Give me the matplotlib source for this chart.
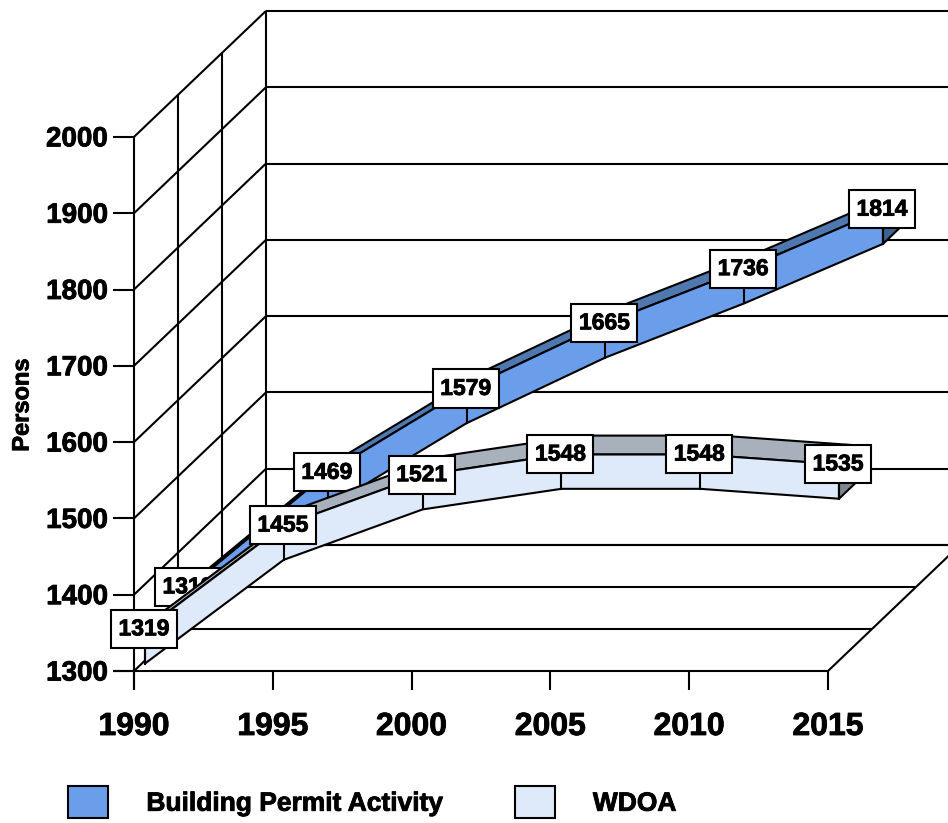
from matplotlib import pyplot as plt
from matplotlib.patches import Patch
from matplotlib.text import Text
from matplotlib import patheffects
import numpy as np

years = np.array([1990, 1995, 2000, 2005, 2010, 2015])
permits = np.array([1319, 1469, 1579, 1665, 1736, 1814])
wdoa = np.array([1319, 1455, 1521, 1548, 1548, 1535])
value_ticks = [1300, 1400, 1500, 1600, 1700, 1800, 1900, 2000]
ylabel = 'Persons'
name_permits = 'Building Permit Activity'
name_wdoa = 'WDOA'

plt.rcParams['font.family'] = ['Liberation Sans', 'DejaVu Sans']
plt.rcParams['font.weight'] = 'bold'

W, H = 948, 823
fig = plt.figure(figsize=(W/100, H/100), dpi=100)
ax = fig.add_axes([0, 0, 1, 1])
ax.axis('off')

# pixels per unit of the front plane
px_year = 138.8/5
px_val = 0.763
x0, y0 = 134, 671
ax.set_xlim(1990 - x0/px_year, 1990 + (W - x0)/px_year)
ax.set_ylim(1300 - (H - y0)/px_val, 1300 + y0/px_val)

# full depth of the box, in data units
DX = 132/px_year
DY = 126/px_val
LW = 1.5

def proj(x, y, d):
    return x + d*DX, y + d*DY

def seg(x1, y1, x2, y2, z=1):
    ax.plot([x1, x2], [y1, y2], color='k', lw=LW, zorder=z, solid_capstyle='butt')

# front axes and ticks
x_l, x_r = years[0], years[-1]
tick_x = 21/px_year
tick_y = 19/px_val
seg(x_l, value_ticks[0] - tick_y, x_l, value_ticks[-1])
seg(x_l - tick_x, value_ticks[0], x_r, value_ticks[0])
for v in value_ticks:
    seg(x_l - tick_x, v, x_l, v)
    ax.text(x_l - 26/px_year, v - 2.5/px_val, str(v), ha='right', va='center', fontsize=20)
    # side wall and back wall
    xb, yb = proj(x_l, v, 1)
    seg(x_l, v, xb, yb)
    seg(xb, yb, xb + 30, yb)
for y in years:
    seg(y, value_ticks[0] - tick_y, y, value_ticks[0])
    ax.text(y, value_ticks[0] - 56/px_val, str(y), ha='center', va='center', fontsize=23)

# floor and side wall divisions
for d in [1/3, 2/3, 1]:
    xa, ya = proj(x_l, value_ticks[0], d)
    xb, yb = proj(x_r, value_ticks[0], d)
    seg(xa, ya, xb, yb)
    xt, yt = proj(x_l, value_ticks[-1], d)
    seg(xa, ya, xt, yt)
xb, yb = proj(x_r, value_ticks[0], 1)
seg(x_r, value_ticks[0], xb, yb)

ax.text(22/px_year + ax.get_xlim()[0], 1300 + (671 - 405)/px_val, ylabel, rotation=90,
        ha='center', va='center', fontsize=17)

def ribbon(vals, d0, face, top, side, z):
    low, high = 23, 22
    d1 = d0 + 0.15
    xf, yf = proj(years, vals, d0)
    xk, yk = proj(years, vals, d1)
    up = np.concatenate([xf, xk[::-1]]), np.concatenate([yf + high, (yk + high)[::-1]])
    ax.fill(up[0], up[1], facecolor=top, edgecolor='k', lw=LW, zorder=z)
    front = np.concatenate([xf, xf[::-1]]), np.concatenate([yf - low, (yf + high)[::-1]])
    ax.fill(front[0], front[1], facecolor=face, edgecolor='k', lw=LW, zorder=z)
    end_x = [xf[-1], xk[-1], xk[-1], xf[-1]]
    end_y = [yf[-1] - low, yk[-1] - low, yk[-1] + high, yf[-1] + high]
    ax.fill(end_x, end_y, facecolor=side, edgecolor='k', lw=LW, zorder=z)
    for x, y, v in zip(xf, yf, vals):
        ax.plot([x, x], [y - low, y - low + 16/px_val], color='k', lw=LW, zorder=z)
        ax.annotate(str(v), (x - 1/px_year, y - low), xytext=(0, 25), textcoords='offset points',
                    ha='center', va='center', fontsize=16.5, zorder=z + 0.5,
                    bbox=dict(boxstyle='square,pad=0.33', fc='white', ec='k', lw=LW))

ribbon(permits, 55/132, '#6a9eeb', '#4f78af', '#3f6391', 3)
ribbon(wdoa, 11/132, '#dee9fa', '#a8b0bc', '#7e8690', 5)

handles = [Patch(facecolor='#6a9eeb', edgecolor='k', lw=LW, label=name_permits),
           Patch(facecolor='#dee9fa', edgecolor='k', lw=LW, label=name_wdoa)]
ax.legend(handles=handles, ncol=2, loc='center left', bbox_to_anchor=(68/W, 1 - 802/H),
          frameon=False, fontsize=19, handlelength=1.52, handleheight=1.44,
          handletextpad=1.45, columnspacing=2.7, borderpad=0, borderaxespad=0)

# the reference text is heavy, thicken it a little
for t in fig.findobj(Text):
    t.set_path_effects([patheffects.withStroke(linewidth=0.6, foreground='k')])

fig.savefig('out.png', dpi=100, facecolor='white')
